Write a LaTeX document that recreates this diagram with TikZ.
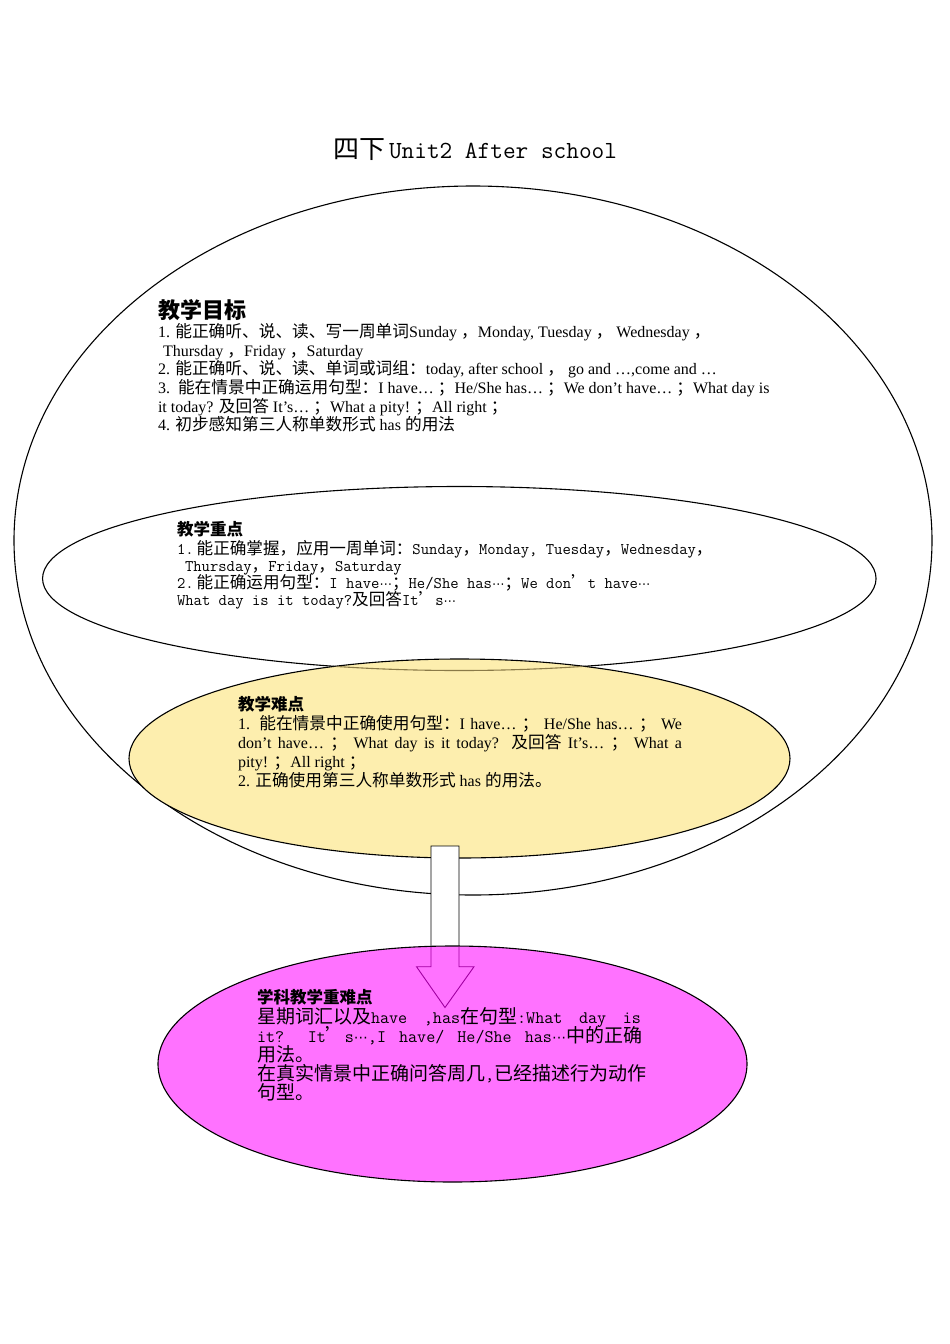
\documentclass[tikz,border=0pt]{standalone}
\usepackage{fontspec}
\setmainfont{Liberation Serif}
\newfontfamily\zh{Noto Sans CJK SC}
\newfontfamily\dv{DejaVu Sans}
\newcommand\mono{\ttfamily}
\newcommand\cjks{}
\newcommand\dotsz{}
\newcommand\zc[1]{{\zh\cjks #1}}
\newcommand\fw[1]{{\zh\cjks\makebox[1em][l]{#1}}}
\newcommand\mdots{{\dv\dotsz ⋯}}
\usetikzlibrary{shapes.geometric}
\definecolor{ylw}{HTML}{FDEEAE}
\definecolor{pnk}{HTML}{FF72FF}
\definecolor{brn}{HTML}{8A7A48}
\definecolor{prp}{HTML}{A000A0}
\begin{document}
\begin{tikzpicture}[x=1pt,y=-1pt,
  ell/.style={ellipse, inner sep=0pt, outer sep=0pt, line width=1.1pt, draw=black},
  txt/.style={anchor=base west, inner sep=0pt, outer sep=0pt},
  hdr/.style={txt, font=\zh\bfseries\fontsize{16.5}{16.5}\selectfont},
  sA/.style={txt, font={\fontsize{16}{18}\selectfont\def\cjks{\fontsize{16.7}{18}\selectfont}}},
  sB/.style={txt, font={\mono\fontsize{16.2}{17}\selectfont\def\cjks{\fontsize{16.6}{17}\selectfont}\def\dotsz{\fontsize{12.5}{17}\selectfont}}},
  sD/.style={txt, font={\mono\fontsize{17.6}{19}\selectfont\def\cjks{\fontsize{19}{19}\selectfont}\def\dotsz{\fontsize{14}{19}\selectfont}\spaceskip=0.525em plus 3em\relax}},
  blockarrow/.style={line width=0.9pt}]
\useasboundingbox (0,0) rectangle (950,1344);
\fill[white] (0,0) rectangle (950,1344);

% ellipses
\node[ell, fill=white, minimum width=918pt, minimum height=709pt] (goal) at (473,540.5) {};
\node[ell, minimum width=833.5pt, minimum height=184pt] (key) at (459.3,578.5) {};
\node[ell, fill=ylw, minimum width=661pt, minimum height=199pt] (diff) at (459.5,758.5) {};
\begin{scope}
  \clip (459.5,758.5) ellipse [x radius=330, y radius=99];
  \draw[brn, line width=1.1pt] (459.3,578.5) ellipse [x radius=416.75, y radius=92];
\end{scope}

% block arrow
\coordinate (atop) at (445,846);
\coordinate (atip) at (445,1007.5);
\draw[blockarrow, fill=white] (431,846) -- (459,846) -- (459,966.7) -- (474,966.7) -- (atip) -- (416.5,966.7) -- (431,966.7) -- cycle;

\node[ell, fill=pnk, minimum width=589pt, minimum height=236pt] (core) at (452.5,1064) {};
\begin{scope}
  \clip (452.5,1064) ellipse [x radius=294, y radius=117.5];
  \draw[blockarrow, prp] (431,846) -- (459,846) -- (459,966.7) -- (474,966.7) -- (atip) -- (416.5,966.7) -- (431,966.7) -- cycle;
\end{scope}

% title
\node[txt] (title) at (333,158.5) {\zh\fontsize{26}{26}\selectfont 四下\hspace{4pt}\mono\fontsize{24.6}{24.6}\selectfont Unit2 After school};

% section 1
\node[txt, font=\zh\bfseries\fontsize{22}{22}\selectfont] (h1) at (158,318) {教学目标};
\node[sA] (a1) at (158,337.6) {1. \zc{能正确听、说、读、写一周单词}Sunday \fw{，}Monday, Tuesday \fw{，} Wednesday \fw{，}};
\node[sA] (a2) at (163,356.2) {Thursday \fw{，}Friday \fw{，}Saturday};
\node[sA] (a3) at (158,374.8) {2. \zc{能正确听、说、读、单词或词组}\fw{：}today, after school \fw{，} go and …,come and …};
\node[sA] (a4) at (158,393.4) {3.\ \ \zc{能在情景中正确运用句型}\fw{：}I have… \fw{；}He/She has… \fw{；}We don’t have… \fw{；}What day is};
\node[sA] (a5) at (158,412) {it today? \zc{及回答} It’s… \fw{；}What a pity! \fw{；}All right \fw{；}};
\node[sA] (a6) at (158,430.6) {4. \zc{初步感知第三人称单数形式} has \zc{的用法}};

% section 2
\node[hdr] (h2) at (177,535) {教学重点};
\node[sB] (b1) at (177,554) {1.\hspace{3pt}\zc{能正确掌握，应用一周单词：}Sunday\zc{，}Monday, Tuesday\zc{，}Wednesday\zc{，}};
\node[sB] (b2) at (185,571) {Thursday\zc{，}Friday\zc{，}Saturday};
\node[sB] (b3) at (177,588) {2.\hspace{3pt}\zc{能正确运用句型：}I have\mdots\zc{；}He/She has\mdots\zc{；}We don\zc{’}t have\mdots};
\node[sB] (b4) at (177,605) {What day is it today?\zc{及回答}It\zc{’}s\mdots};

% section 3
\node[hdr] (h3) at (238,710) {教学难点};
\node[sA] (c1) at (238,729.6) {\makebox[444pt][s]{1. \zc{能在情景中正确使用句型}\fw{：}I have… \fw{；} He/She has… \fw{；} We}};
\node[sA] (c2) at (238,748.4) {\makebox[444pt][s]{don’t have… \fw{；} What day is it today? \zc{及回答} It’s… \fw{；} What a}};
\node[sA] (c3) at (238,767.2) {pity! \fw{；}All right \fw{；}};
\node[sA] (c4) at (238,786) {2. \zc{正确使用第三人称单数形式} has \zc{的用法。}};

% section 4
\node[hdr] (h4) at (257,1003) {学科教学重难点};
\node[sD] (d1) at (257,1023.5) {\makebox[384pt][s]{\zc{星期词汇以及}have ,has\zc{在句型}:What day is}};
\node[sD] (d2) at (257,1042.5) {\makebox[385pt][s]{it? It\zc{’}s\mdots,I have/ He/She has\mdots\zc{中的正确}}};
\node[sD] (d3) at (257,1061.5) {\zc{用法。}};
\node[sD] (d4) at (257,1080.5) {\zc{在真实情景中正确问答周几}{,}\zc{已经描述行为动作}};
\node[sD] (d5) at (257,1099.5) {\zc{句型。}};
\end{tikzpicture}
\end{document}
